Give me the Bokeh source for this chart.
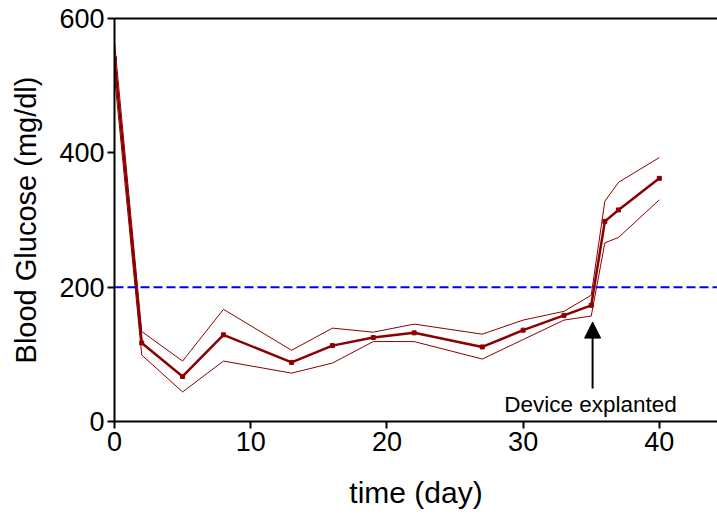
from bokeh.plotting import figure
from bokeh.models import Range1d, LinearAxis, FixedTicker, Span, Arrow, NormalHead, Label
from bokeh.embed import file_html
from bokeh.resources import INLINE

days = [0, 2, 5, 8, 13, 16, 19, 22, 27, 30, 33, 35, 36, 37, 40]
mean_glucose = [540, 117, 67, 129, 88, 113, 125, 132, 111, 136, 158, 173, 298, 315, 362]
upper_glucose = [565, 134, 90, 167, 106, 139, 133, 145, 130, 151, 164, 188, 328, 356, 393]
lower_glucose = [515, 99, 44, 90, 72, 87, 119, 119, 93, 122, 151, 157, 266, 274, 330]
x_ticks = [0, 10, 20, 30, 40]
y_ticks = [0, 200, 400, 600]
threshold = 200
explant_day = 35.1
annotation_text = "Device explanted"

FONT = "Liberation Sans"
RED = "#8B0000"

p = figure(width=717, height=521, output_backend="svg", toolbar_location=None,
           x_range=Range1d(0, 44.27), y_range=Range1d(0, 600),
           min_border_left=114, min_border_right=0, min_border_top=18, min_border_bottom=100)
p.outline_line_color = None
p.grid.visible = False
p.background_fill_color = "white"

for ax in (p.xaxis[0], p.yaxis[0]):
    ax.axis_line_width = 2
    ax.axis_line_color = "black"
    ax.major_tick_line_width = 2
    ax.major_tick_in = 0
    ax.major_tick_out = 7
    ax.minor_tick_line_color = None
    ax.major_label_text_font = FONT
    ax.major_label_text_font_size = "27px"
    ax.major_label_text_color = "black"
    ax.axis_label_text_font = FONT
    ax.axis_label_text_font_style = "normal"
    ax.axis_label_text_color = "black"
    ax.major_label_standoff = 3

p.xaxis.ticker = FixedTicker(ticks=x_ticks)
p.yaxis.ticker = FixedTicker(ticks=y_ticks)
p.xaxis.axis_label = "time (day)"
p.yaxis.axis_label = "Blood Glucose (mg/dl)"
p.xaxis.axis_label_text_font_size = "30px"
p.yaxis.axis_label_text_font_size = "29px"
p.xaxis.axis_label_standoff = 22
p.yaxis.axis_label_standoff = 14

top = LinearAxis(axis_line_width=2, major_tick_line_color=None, minor_tick_line_color=None,
                 major_label_text_font_size="0px", major_tick_out=0, major_tick_in=0)
top.ticker = FixedTicker(ticks=[])
p.add_layout(top, "above")

p.add_layout(Span(location=threshold, dimension="width", line_color="#0000EE",
                  line_width=2, line_dash="9 4"))

p.line(days, upper_glucose, line_color=RED, line_width=1)
p.line(days, lower_glucose, line_color=RED, line_width=1)
p.line(days, mean_glucose, line_color=RED, line_width=2.5)
p.scatter(days, mean_glucose, marker="square", size=4, color=RED)

p.add_layout(Arrow(end=NormalHead(size=16, fill_color="black", line_color="black"),
                   x_start=explant_day, y_start=49, x_end=explant_day, y_end=148,
                   line_width=2, line_color="black"))
p.add_layout(Label(x=34.95, y=26, text=annotation_text, text_align="center",
                   text_baseline="middle", text_font=FONT, text_font_size="22.5px",
                   text_color="black"))

open("out.html", "w").write(file_html(p, INLINE))
